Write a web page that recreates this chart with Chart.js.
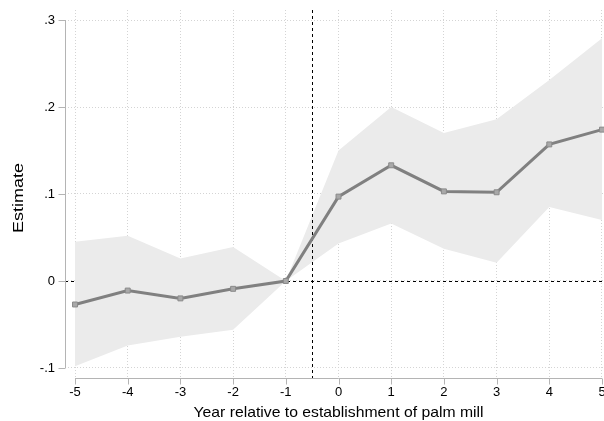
<!DOCTYPE html>
<html>
<head>
<meta charset="utf-8">
<script src="https://cdn.jsdelivr.net/npm/chart.js@4/dist/chart.umd.min.js"></script>
<style>
  html, body { margin: 0; padding: 0; background: #fff; }
  #wrap { width: 604px; height: 421px; position: relative; }
</style>
</head>
<body>
<div id="wrap"><canvas id="c" width="604" height="421"></canvas></div>
<script>
// Event-study estimates by year relative to mill establishment
const years = [-5, -4, -3, -2, -1, 0, 1, 2, 3, 4, 5];
const estimate = [-0.027, -0.011, -0.020, -0.009, 0.000, 0.097, 0.133, 0.103, 0.102, 0.157, 0.174];
const ciUpper  = [0.045, 0.052, 0.026, 0.039, 0.000, 0.150, 0.200, 0.170, 0.186, 0.231, 0.279];
const ciLower  = [-0.098, -0.074, -0.064, -0.056, 0.000, 0.043, 0.066, 0.037, 0.021, 0.085, 0.070];
const xTicks = [-5, -4, -3, -2, -1, 0, 1, 2, 3, 4, 5];
const yTicks = [-0.1, 0, 0.1, 0.2, 0.3];
const yTickLabels = ['-.1', '0', '.1', '.2', '.3'];
const xTitle = 'Year relative to establishment of palm mill';
const yTitle = 'Estimate';
const eventLine = -0.5;

const FONT = 'Liberation Sans, Arial, Helvetica, sans-serif';
const AXIS_COLOR = '#b4b4b4';

const toPoints = arr => years.map((x, i) => ({ x: x, y: arr[i] }));

// keep the plot area exactly where the layout padding puts it
const noLabelPadding = s => {
  s.paddingTop = 0; s.paddingBottom = 0; s.paddingLeft = 0; s.paddingRight = 0;
};

// draw a title centred at (cx, cy), widened along its baseline to span `span` px
function drawTitle(ctx, text, cx, cy, span, angle) {
  ctx.save();
  ctx.translate(cx, cy);
  ctx.rotate(angle);
  const w = ctx.measureText(text).width;
  ctx.scale(span / w, 1);
  ctx.fillText(text, 0, 0);
  ctx.restore();
}

// Reference lines, axes, tick marks and titles
const decor = {
  id: 'decor',
  beforeDatasetsDraw(chart) {
    const { ctx, chartArea, scales: { y } } = chart;
    // horizontal zero line, beneath the confidence band
    ctx.save();
    ctx.strokeStyle = '#000';
    ctx.lineWidth = 1;
    ctx.setLineDash([3, 3]);
    const y0 = Math.round(y.getPixelForValue(0)) + 0.5;
    ctx.beginPath();
    ctx.moveTo(chartArea.left, y0);
    ctx.lineTo(chartArea.right, y0);
    ctx.stroke();
    ctx.restore();
  },
  afterDatasetDraw(chart, args) {
    if (args.index !== 1) return;
    const { ctx, chartArea, scales: { x } } = chart;
    // vertical event line, over the band
    ctx.save();
    ctx.strokeStyle = '#000';
    ctx.lineWidth = 1;
    ctx.setLineDash([3, 3]);
    const xe = Math.round(x.getPixelForValue(eventLine)) + 0.5;
    ctx.beginPath();
    ctx.moveTo(xe, chartArea.top);
    ctx.lineTo(xe, chartArea.bottom);
    ctx.stroke();
    ctx.restore();
  },
  afterDraw(chart) {
    const { ctx, chartArea, scales: { x, y } } = chart;
    ctx.save();
    ctx.strokeStyle = AXIS_COLOR;
    ctx.lineWidth = 1;
    ctx.setLineDash([]);
    // y axis
    const ax = chartArea.left + 0.5;
    ctx.beginPath();
    ctx.moveTo(ax, y.getPixelForValue(yTicks[yTicks.length - 1]));
    ctx.lineTo(ax, y.getPixelForValue(yTicks[0]));
    yTicks.forEach(v => {
      const py = Math.round(y.getPixelForValue(v)) + 0.5;
      ctx.moveTo(ax - 7, py);
      ctx.lineTo(ax, py);
    });
    ctx.stroke();
    // x axis
    const ay = chartArea.bottom + 0.5;
    ctx.beginPath();
    ctx.moveTo(x.getPixelForValue(xTicks[0]), ay);
    ctx.lineTo(x.getPixelForValue(xTicks[xTicks.length - 1]), ay);
    xTicks.forEach(v => {
      const px = Math.round(x.getPixelForValue(v)) + 0.5;
      ctx.moveTo(px, ay);
      ctx.lineTo(px, ay + 6);
    });
    ctx.stroke();

    // axis titles
    ctx.fillStyle = '#000';
    ctx.font = '15px ' + FONT;
    ctx.textAlign = 'center';
    ctx.textBaseline = 'middle';
    const xMid = (x.getPixelForValue(xTicks[0]) + x.getPixelForValue(xTicks[xTicks.length - 1])) / 2;
    drawTitle(ctx, xTitle, xMid, 413, 290, 0);
    drawTitle(ctx, yTitle, 19, 198, 70, -Math.PI / 2);
    ctx.restore();
  }
};

new Chart(document.getElementById('c'), {
  type: 'line',
  data: {
    datasets: [
      {
        label: 'upper',
        data: toPoints(ciUpper),
        borderWidth: 0,
        pointRadius: 0,
        backgroundColor: '#ebebeb',
        fill: '+1',
        order: 3
      },
      {
        label: 'lower',
        data: toPoints(ciLower),
        borderWidth: 0,
        pointRadius: 0,
        backgroundColor: '#ebebeb',
        fill: false,
        order: 2
      },
      {
        label: 'Estimate',
        data: toPoints(estimate),
        borderColor: '#808080',
        borderWidth: 3,
        pointStyle: 'rect',
        pointRadius: 3.5,
        pointBackgroundColor: '#a8a8a8',
        pointBorderColor: '#8a8a8a',
        pointBorderWidth: 1,
        fill: false,
        order: 1
      }
    ]
  },
  options: {
    responsive: false,
    animation: false,
    devicePixelRatio: 1,
    layout: { autoPadding: false, padding: { top: 10, right: 0, left: 0, bottom: 0 } },
    plugins: { legend: { display: false }, tooltip: { enabled: false } },
    elements: { line: { tension: 0 } },
    scales: {
      x: {
        type: 'linear',
        min: -5.19,
        max: 5.038,
        afterBuildTicks: s => { s.ticks = xTicks.map(v => ({ value: v })); },
        afterFit: s => { s.height = 43; noLabelPadding(s); },
        ticks: {
          color: '#000',
          font: { family: FONT, size: 13 },
          padding: 7,
          maxRotation: 0,
          autoSkip: false,
          callback: v => String(v)
        },
        grid: { color: '#d4d4d4', drawTicks: false, lineWidth: 1 },
        border: { display: false, dash: [1, 2] }
      },
      y: {
        type: 'linear',
        min: -0.1115,
        max: 0.3115,
        afterBuildTicks: s => { s.ticks = yTicks.map(v => ({ value: v })); },
        afterFit: s => { s.width = 65; noLabelPadding(s); },
        ticks: {
          color: '#000',
          font: { family: FONT, size: 13 },
          padding: 10,
          autoSkip: false,
          callback: v => {
            const i = yTicks.findIndex(t => Math.abs(t - v) < 1e-9);
            return i >= 0 ? yTickLabels[i] : '';
          }
        },
        grid: { color: '#d4d4d4', drawTicks: false, lineWidth: 1 },
        border: { display: false, dash: [1, 2] }
      }
    }
  },
  plugins: [decor]
});
</script>
</body>
</html>
